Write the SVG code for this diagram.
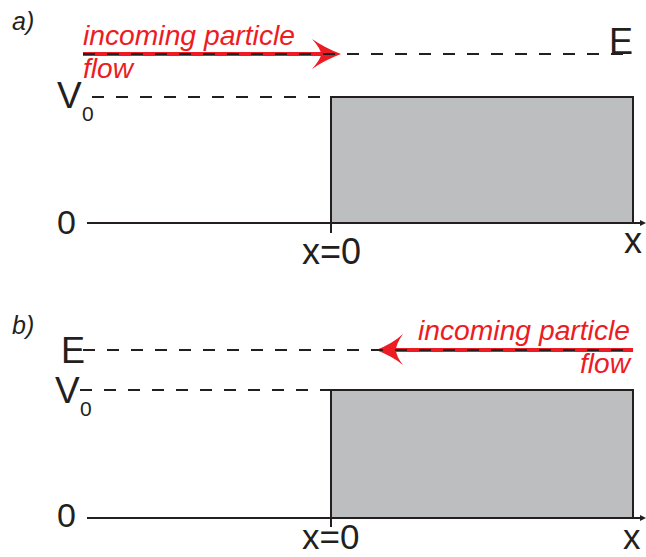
<svg xmlns="http://www.w3.org/2000/svg" width="646" height="557" viewBox="0 0 646 557">
<style>
.lbl{font-family:"Liberation Sans",Arial,sans-serif;fill:#231f20}
.it{font-family:"Liberation Sans",Arial,sans-serif;font-style:italic}
.red{fill:#ed1c24}
.dash{stroke:#231f20;stroke-width:2;stroke-dasharray:12 12;fill:none}
.axis{stroke:#231f20;stroke-width:2;fill:none}
.bar{fill:#bcbec0;stroke:#231f20;stroke-width:2}
.flow{stroke:#ed1c24;stroke-width:4;fill:none}
</style>
<rect width="646" height="557" fill="#ffffff"/>
<!-- Panel a -->
<g id="panel-a">
  <text class="it" x="12" y="30" font-size="25" fill="#231f20">a)</text>
  <g id="barrier-a"><rect class="bar" x="331" y="97" width="302" height="126"/></g>
  <g id="label-E-a"><text class="lbl" x="609" y="54" font-size="36">E</text></g>
  <g id="label-V0-a"><text class="lbl" x="57" y="108" font-size="37">V</text><text class="lbl" x="82" y="121" font-size="21">0</text></g>
  <g id="label-0-a"><text class="lbl" x="57" y="234" font-size="34">0</text></g>
  <g id="label-x0-a"><text class="lbl" x="302" y="264" font-size="36">x=0</text></g>
  <g id="label-x-a"><text class="lbl" x="624" y="253" font-size="36">x</text></g>
  <g id="flow-label-a"><text class="it red" x="83" y="45" font-size="27" textLength="212" lengthAdjust="spacingAndGlyphs">incoming particle</text><text class="it red" x="83" y="78" font-size="27" textLength="50" lengthAdjust="spacingAndGlyphs">flow</text></g>
</g>
<!-- Panel b -->
<g id="panel-b">
  <text class="it" x="12" y="334" font-size="25" fill="#231f20">b)</text>
  <g id="barrier-b"><rect class="bar" x="331" y="390" width="302" height="128"/></g>
  <g id="label-E-b"><text class="lbl" x="61" y="363" font-size="36">E</text></g>
  <g id="label-V0-b"><text class="lbl" x="55" y="403" font-size="37">V</text><text class="lbl" x="80" y="416" font-size="21">0</text></g>
  <g id="label-0-b"><text class="lbl" x="57" y="527" font-size="34">0</text></g>
  <g id="label-x0-b"><text class="lbl" x="302" y="549" font-size="35">x=0</text></g>
  <g id="label-x-b"><text class="lbl" x="623" y="549" font-size="35">x</text></g>
  <g id="flow-label-b"><text class="it red" x="418" y="340" font-size="27" textLength="212" lengthAdjust="spacingAndGlyphs">incoming particle</text><text class="it red" x="580" y="373" font-size="27" textLength="50" lengthAdjust="spacingAndGlyphs">flow</text></g>
</g>
<g id="connectors">
  <!-- panel a -->
  <line class="flow" x1="83" y1="54" x2="322" y2="54"/>
  <path class="red" d="M341,54 Q325,48 312,39 Q321,49 321,54 Q321,59 312,69 Q325,60 341,54 Z"/>
  <line class="dash" x1="83" y1="54" x2="632" y2="54"/>
  <line class="dash" x1="92" y1="97" x2="331" y2="97"/>
  <line class="axis" x1="87" y1="223" x2="643" y2="223"/>
  <path d="M640,220 L646,223 L640,226 Z" fill="#231f20"/>
  <line class="axis" x1="331" y1="223" x2="331" y2="233"/>
  <!-- panel b -->
  <line class="flow" x1="395" y1="350" x2="633" y2="350"/>
  <path class="red" d="M376,350 Q392,344 403,334 Q396,344 396,350 Q396,356 403,365 Q392,356 376,350 Z"/>
  <line class="dash" x1="83" y1="350" x2="633" y2="350"/>
  <line class="dash" x1="80" y1="390" x2="331" y2="390"/>
  <line class="axis" x1="87" y1="518" x2="643" y2="518"/>
  <path d="M640,515 L646,518 L640,521 Z" fill="#231f20"/>
  <line class="axis" x1="331" y1="518" x2="331" y2="527"/>
</g>
</svg>
